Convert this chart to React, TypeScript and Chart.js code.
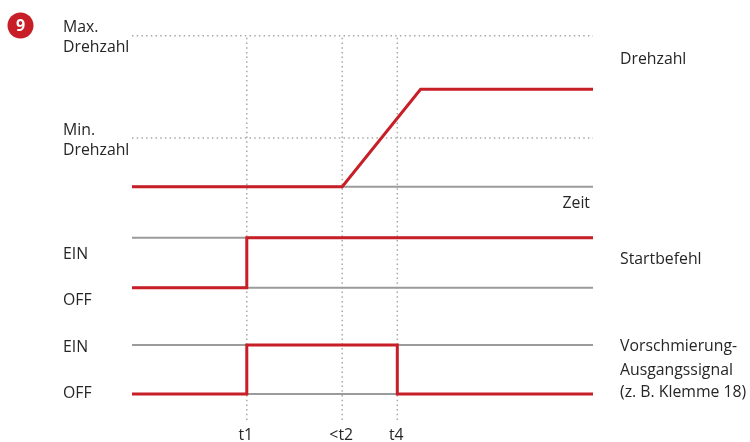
import React, { useEffect, useRef } from 'react';
import { Chart, registerables } from 'chart.js';

Chart.register(...registerables);

// ---- data (time in arbitrary units) ----
const timeStart = 0;
const timeEnd = 10;
const markerTimes = [2.49, 4.56, 5.755];
const markerLabels = ['t1', '<t2', 't4'];

// Drehzahl trace
const speedTimes = [0, 4.56, 6.26, 10];
const speedValues = [0, 0, 2000, 2000];
const minSpeed = 1000;
const maxSpeed = 3100;

// Startbefehl trace (0 = OFF, 1 = EIN)
const startTimes = [0, 2.49, 2.49, 10];
const startValues = [0, 0, 1, 1];

// Vorschmierung-Ausgangssignal trace (0 = OFF, 1 = EIN)
const preTimes = [0, 2.49, 2.49, 5.755, 5.755, 10];
const preValues = [0, 0, 1, 1, 0, 0];

// ---- layout of the three lanes on the shared y scale ----
const Y_MAX = 384;
const speedLane = { base: 233.3, perUnit: 48.7 / 1000 };
const startLane = { base: 132.3, height: 50 };
const preLane = { base: 26, height: 49 };

const RED = '#c81e28';
const GRAY = '#9b9b9b';
const DOT = '#a8a8a8';
const TEXT = '#262626';
const FONT = '15.8px "Open Sans"';

const sp = (v: number) => speedLane.base + v * speedLane.perUnit;
const st = (v: number) => startLane.base + v * startLane.height;
const pr = (v: number) => preLane.base + v * preLane.height;

const line = (pts: { x: number; y: number }[], color: string, width: number, dash: number[] = []) => ({
  data: pts,
  borderColor: color,
  borderWidth: width,
  borderDash: dash,
  pointRadius: 0,
  tension: 0,
  fill: false,
  clip: false as any,
  borderCapStyle: 'butt' as const,
  borderJoinStyle: 'miter' as const,
});

const hLine = (y: number, color: string, width: number, dash: number[] = []) =>
  line([{ x: timeStart, y }, { x: timeEnd, y }], color, width, dash);

const labelsPlugin = {
  id: 'diagramLabels',
  afterDraw(chart: any) {
    const { ctx, scales } = chart;
    const xs = scales.x;
    const ys = scales.y;
    const py = (v: number) => ys.getPixelForValue(v);
    ctx.save();
    // badge
    ctx.fillStyle = RED;
    ctx.beginPath();
    ctx.arc(20.5, 25.5, 13, 0, Math.PI * 2);
    ctx.fill();
    ctx.fillStyle = '#ffffff';
    ctx.font = 'bold 16px "Open Sans"';
    ctx.textAlign = 'center';
    ctx.textBaseline = 'middle';
    ctx.fillText('9', 20.5, 26);

    ctx.fillStyle = TEXT;
    ctx.font = FONT;
    ctx.textBaseline = 'alphabetic';
    ctx.textAlign = 'left';
    const LX = 63;
    const maxY = py(sp(maxSpeed));
    const minY = py(sp(minSpeed));
    ctx.fillText('Max.', LX, maxY - 3.5);
    ctx.fillText('Drehzahl', LX, maxY + 16.5);
    ctx.fillText('Min.', LX, minY - 3);
    ctx.fillText('Drehzahl', LX, minY + 16.5);
    ctx.fillText('EIN', LX, py(st(1)) + 21.3);
    ctx.fillText('OFF', LX, py(st(0)) + 17.6);
    ctx.fillText('EIN', LX, py(pr(1)) + 6.7);
    ctx.fillText('OFF', LX, py(pr(0)) + 3.7);

    const RX = 620;
    ctx.fillText('Drehzahl', RX, 64.3);
    ctx.fillText('Startbefehl', RX, 264.3);
    ctx.fillText('Vorschmierung-', RX, 351);
    ctx.fillText('Ausgangssignal', RX, 374.5);
    ctx.fillText('(z. B. Klemme 18)', RX, 397);

    ctx.textAlign = 'right';
    ctx.fillText('Zeit', xs.getPixelForValue(timeEnd) - 3, py(sp(0)) + 21.6);

    ctx.textAlign = 'center';
    markerTimes.forEach((t, i) => {
      ctx.fillText(markerLabels[i], xs.getPixelForValue(t) - 1, 440);
    });
    ctx.restore();
  },
};

export default function App() {
  const ref = useRef<HTMLCanvasElement | null>(null);

  useEffect(() => {
    if (!ref.current) return;
    const datasets: any[] = [
      // red signal traces (on top)
      line(speedTimes.map((t, i) => ({ x: t, y: sp(speedValues[i]) })), RED, 3),
      line(startTimes.map((t, i) => ({ x: t, y: st(startValues[i]) })), RED, 3),
      line(preTimes.map((t, i) => ({ x: t, y: pr(preValues[i]) })), RED, 3),
      // gray reference lines
      hLine(sp(0), GRAY, 2),
      hLine(st(0), GRAY, 2),
      hLine(st(1), GRAY, 2),
      hLine(pr(0), GRAY, 2),
      hLine(pr(1), GRAY, 2),
      // dotted speed limits
      hLine(sp(maxSpeed), DOT, 1.5, [1.5, 3.2]),
      hLine(sp(minSpeed), DOT, 1.5, [1.5, 3.2]),
      // dotted time markers
      ...markerTimes.map((t) =>
        line([{ x: t, y: 0 }, { x: t, y: Y_MAX }], DOT, 1.5, [1.5, 3.2])
      ),
    ];

    const chart = new Chart(ref.current, {
      type: 'line',
      data: { datasets },
      options: {
        animation: false,
        responsive: false,
        events: [],
        layout: { padding: { left: 132, right: 157, top: 36, bottom: 22 } },
        scales: {
          x: { type: 'linear', min: timeStart, max: timeEnd, display: false },
          y: { type: 'linear', min: 0, max: Y_MAX, display: false },
        },
        plugins: {
          legend: { display: false },
          tooltip: { enabled: false },
        },
      },
      plugins: [labelsPlugin],
    });
    return () => chart.destroy();
  }, []);

  return (
    <div style={{ position: 'absolute', left: 0, top: 0, width: 750, height: 442, background: '#fff' }}>
      <canvas ref={ref} width={750} height={442} style={{ display: 'block' }} />
    </div>
  );
}
